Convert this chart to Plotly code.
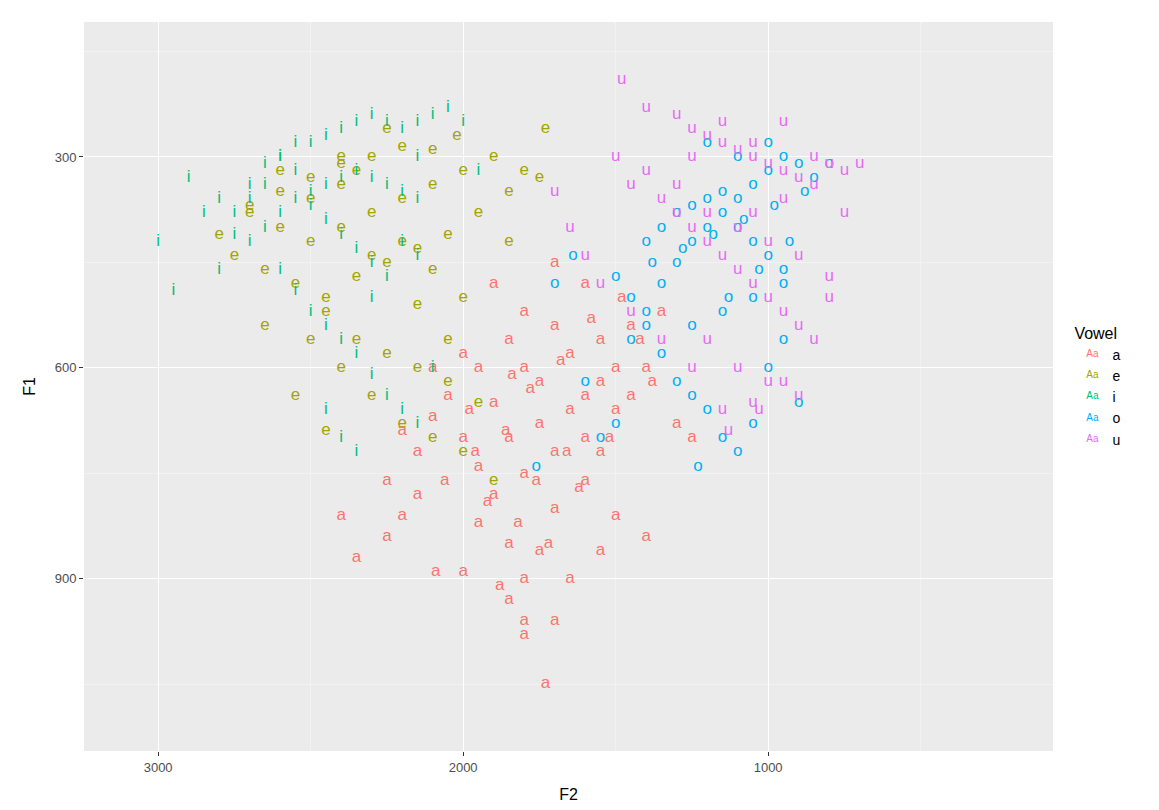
import plotly.graph_objects as go

# vowel formant tokens (F2, F1 in Hz)
a_f2 = [1730, 1800, 1850, 2000, 2350, 2250, 2200, 2400, 1550, 1400, 1500, 1900, 1800, 1700, 1600, 2000,
        2100, 1900, 1750, 1650, 1550, 1450, 1500, 1850, 1950, 2050, 2150, 2250, 1600, 1700, 1750, 1650,
        1800, 1850, 1950, 1550, 1450, 1400, 1350, 1600, 1700, 1800, 1900, 2000, 2100, 1650, 1750, 1850,
        1950, 1500, 1550, 1300, 1250, 1700, 1600, 1800, 2200, 2150, 1700, 1800, 2090, 1880, 1620, 1520,
        1420, 1680, 1780, 1980, 2060, 1920, 1820, 1720, 1580, 1480, 1380, 1660, 1760, 1860, 1960, 1840]
a_f1 = [1050, 960, 930, 890, 870, 840, 810, 810, 860, 840, 810, 780, 750, 720, 700, 700,
        670, 650, 620, 580, 560, 540, 600, 560, 600, 640, 720, 760, 760, 800, 860, 900,
        900, 850, 820, 720, 640, 600, 520, 480, 450, 520, 480, 580, 600, 660, 680, 700,
        740, 660, 620, 680, 700, 540, 640, 600, 690, 780, 960, 980, 890, 910, 770, 700,
        560, 590, 630, 660, 760, 790, 820, 850, 530, 500, 620, 720, 760, 690, 720, 610]

e_f2 = [1730, 2020, 2100, 2200, 2300, 2400, 2500, 2600, 2700, 2800, 2750, 2650, 2550, 2450, 2350, 2250,
        2150, 2050, 1950, 1850, 1800, 1900, 2000, 2100, 2200, 2300, 2400, 2500, 2600, 2700, 2450, 2350,
        2250, 2150, 2050, 1950, 2500, 2400, 2300, 2200, 2100, 2000, 1900, 2450, 2550, 2650, 2300, 2200,
        2100, 2000, 2400, 2350, 2250, 1750, 1850, 2150, 2050, 2600, 2500, 2400]
e_f1 = [260, 270, 290, 285, 300, 310, 330, 350, 370, 410, 440, 460, 480, 500, 470, 450,
        430, 410, 380, 350, 320, 300, 320, 340, 360, 380, 400, 420, 400, 380, 520, 560,
        580, 600, 620, 650, 560, 600, 640, 680, 700, 720, 760, 690, 640, 540, 440, 420,
        460, 500, 340, 320, 260, 330, 420, 510, 560, 320, 360, 300]

i_f2 = [3000, 2950, 2900, 2850, 2800, 2750, 2700, 2650, 2600, 2550, 2500, 2450, 2400, 2350, 2300, 2250,
        2200, 2150, 2100, 2050, 2000, 2600, 2550, 2500, 2450, 2400, 2350, 2300, 2250, 2200, 2150, 2100,
        2700, 2650, 2600, 2550, 2500, 2450, 2400, 2350, 2300, 2250, 2200, 2150, 2800, 2750, 2700, 2650,
        2600, 2550, 2500, 2450, 2400, 2350, 2300, 2250, 2200, 2150, 2450, 2400, 2350, 2300, 1950, 2150]
i_f1 = [420, 490, 330, 380, 360, 410, 340, 310, 300, 280, 280, 270, 260, 250, 240, 250,
        260, 250, 240, 230, 250, 460, 490, 520, 540, 560, 580, 610, 640, 660, 680, 600,
        420, 400, 380, 360, 350, 340, 330, 320, 330, 340, 350, 360, 460, 380, 360, 340,
        300, 320, 370, 390, 410, 430, 450, 470, 420, 300, 660, 700, 720, 500, 320, 440]

o_f2 = [1600, 1550, 1500, 1450, 1400, 1350, 1300, 1250, 1200, 1150, 1100, 1050, 1000, 950, 900, 850,
        800, 1300, 1250, 1200, 1150, 1100, 1050, 1000, 950, 900, 1400, 1350, 1300, 1250, 1200, 1150,
        1100, 1050, 1000, 950, 1500, 1450, 1400, 1350, 1250, 1150, 1050, 950, 1200, 1100, 1000, 1380,
        1280, 1180, 1080, 980, 880, 1230, 1130, 1030, 930, 1760, 1700, 1640]
o_f1 = [620, 700, 680, 560, 520, 480, 450, 420, 400, 380, 360, 340, 320, 300, 310, 330,
        310, 620, 640, 660, 700, 720, 680, 600, 560, 650, 420, 400, 380, 370, 360, 350,
        400, 420, 440, 460, 470, 500, 540, 580, 540, 520, 500, 480, 280, 300, 280, 450,
        430, 410, 390, 370, 350, 740, 500, 460, 420, 740, 480, 440]

u_f2 = [1480, 1400, 1300, 1250, 1200, 1150, 1100, 1050, 1000, 950, 900, 850, 800, 750, 700, 1500,
        1450, 1350, 1300, 1250, 1200, 1150, 1100, 1050, 1000, 950, 900, 850, 800, 1200, 1100, 1000,
        900, 1150, 1050, 950, 1250, 1350, 1450, 1550, 1600, 1650, 1700, 1050, 950, 850, 750, 1000,
        1100, 1200, 1300, 1400, 900, 800, 1150, 1050, 950, 1250, 1130, 1030]
u_f1 = [190, 230, 240, 260, 270, 280, 290, 300, 310, 320, 330, 300, 310, 320, 310, 300,
        340, 360, 380, 400, 420, 440, 460, 480, 500, 520, 540, 560, 500, 560, 600, 620,
        640, 660, 650, 620, 600, 560, 520, 480, 440, 400, 350, 380, 360, 340, 380, 420,
        400, 380, 340, 320, 440, 470, 250, 280, 250, 300, 690, 660]

vowels = ["a", "e", "i", "o", "u"]
colors = ["#F8766D", "#A3A500", "#00BF7D", "#00B0F6", "#E76BF3"]
data = {"a": (a_f2, a_f1), "e": (e_f2, e_f1), "i": (i_f2, i_f1), "o": (o_f2, o_f1), "u": (u_f2, u_f1)}

fig = go.Figure()
for v, c in zip(vowels, colors):
    f2, f1 = data[v]
    fig.add_trace(go.Scatter(x=f2, y=f1, mode="text", text=[v] * len(f2), name=v,
                             textfont=dict(color=c, size=17, family="Liberation Sans")))

grid = dict(showgrid=True, gridcolor="white", gridwidth=1.4, zeroline=False, ticks="outside",
            ticklen=4, tickcolor="#333333", tickfont=dict(color="#4d4d4d", size=13), automargin=False,
            minor=dict(showgrid=True, gridcolor="#f2f2f2", gridwidth=0.7))
fig.update_xaxes(range=[3243, 66], tickvals=[3000, 2000, 1000], title=dict(text="F2", font=dict(size=16)),
                 minor_tickvals=[2500, 1500, 500], **grid)
fig.update_yaxes(range=[1145, 108], tickvals=[300, 600, 900], title=dict(text="F1", font=dict(size=16)),
                 minor_tickvals=[150, 450, 750, 1050], **grid)
fig.update_layout(width=1159, height=810, plot_bgcolor="#EBEBEB", paper_bgcolor="white",
                  margin=dict(l=76, r=114, t=14, b=67),
                  font=dict(family="Liberation Sans", color="black"),
                  legend=dict(title=dict(text="Vowel", font=dict(size=16)), font=dict(size=14),
                              x=1.02, y=0.5, yanchor="middle", bgcolor="white"))
fig.write_html("out.html")
